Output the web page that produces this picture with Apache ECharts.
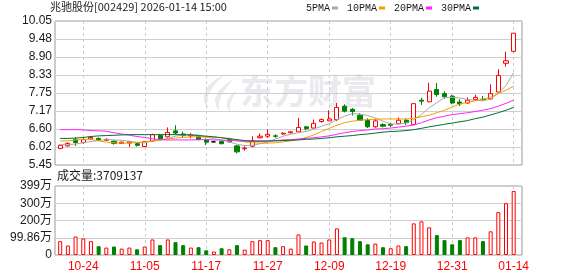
<!DOCTYPE html>
<html><head><meta charset="utf-8">
<script src="https://cdn.jsdelivr.net/npm/echarts@6/dist/echarts.min.js"></script>
<style>html,body{margin:0;padding:0;background:#fff}#c{width:578px;height:276px}</style>
</head><body><div id="c"></div>
<script>
const dates = ['10-21','10-22','10-23','10-24','10-27','10-28','10-29','10-30','10-31',
  '11-03','11-04','11-05','11-06','11-07','11-10','11-11','11-12','11-13','11-14','11-17','11-18','11-19','11-20','11-21','11-24','11-25','11-26','11-27','11-28',
  '12-01','12-02','12-03','12-04','12-05','12-08','12-09','12-10','12-11','12-12','12-15','12-16','12-17','12-18','12-19','12-22','12-23','12-24','12-25','12-26','12-29','12-30','12-31',
  '01-05','01-06','01-07','01-08','01-09','01-12','01-13','01-14'];
const open  = [5.98,6.06,6.26,6.17,6.28,6.30,6.24,6.21,6.14,6.15, 6.13,6.04,6.22,6.39,6.35,6.54,6.44,6.38,6.35,6.26, 6.19,6.20,6.26,6.06,5.97,6.05,6.32,6.37,6.38,6.44, 6.48,6.51,6.67,6.63,6.84,6.86,6.90,7.33,7.23,7.04, 6.88,6.67,6.74,6.75,6.77,6.88,6.74,7.52,7.47,7.86, 7.73,7.65,7.46,7.43,7.54,7.55,7.56,7.78,8.70,9.08];
const close = [6.08,6.14,6.17,6.26,6.33,6.26,6.27,6.14,6.18,6.19, 6.08,6.20,6.42,6.29,6.49,6.47,6.39,6.42,6.26,6.18, 6.19,6.13,6.19,5.87,5.99,6.22,6.37,6.43,6.37,6.46, 6.51,6.65,6.61,6.78,6.90,6.92,7.29,7.17,7.16,6.88, 6.67,6.86,6.69,6.72,6.88,6.80,7.41,7.49,7.81,7.70, 7.63,7.43,7.40,7.52,7.61,7.54,7.73,8.31,8.78,9.66];
const low   = [5.95,6.04,6.06,6.13,6.25,6.22,6.22,6.10,6.12,6.03, 6.04,6.02,6.20,6.27,6.33,6.42,6.33,6.30,6.24,6.09, 6.17,6.11,6.17,5.82,5.91,6.02,6.30,6.31,6.32,6.42, 6.46,6.50,6.56,6.61,6.80,6.85,6.85,7.13,7.03,6.86, 6.63,6.64,6.65,6.66,6.75,6.73,6.72,7.37,7.45,7.63, 7.57,7.39,7.33,7.41,7.50,7.50,7.54,7.76,8.59,9.05];
const high  = [6.10,6.17,6.34,6.32,6.36,6.33,6.30,6.24,6.20,6.21, 6.16,6.22,6.45,6.44,6.65,6.72,6.52,6.47,6.37,6.30, 6.22,6.22,6.30,6.08,6.05,6.37,6.46,6.59,6.43,6.50, 6.53,6.95,6.70,6.90,6.93,7.20,7.43,7.39,7.27,7.10, 6.94,6.93,6.78,6.80,6.97,6.93,7.41,7.60,8.08,8.07, 7.80,7.69,7.55,7.61,7.70,7.66,8.03,8.51,9.07,9.66];
const volume = [800000,550000,1070000,960000,800000,510000,430000,490000,370000,430000,
  330000,490000,900000,570000,900000,740000,570000,430000,450000,270000,
  200000,390000,330000,570000,310000,800000,860000,860000,450000,510000,
  370000,1190000,550000,780000,720000,900000,1540000,1030000,970000,800000,
  620000,660000,450000,390000,550000,510000,1830000,1950000,1600000,1150000,
  860000,620000,860000,1020000,1020000,800000,1370000,2480000,3000000,3709137];
const ma5  = [6.10,6.10,6.12,6.16,6.20,6.23,6.26,6.25,6.24,6.21, 6.17,6.16,6.21,6.24,6.30,6.37,6.41,6.41,6.41,6.34, 6.29,6.24,6.19,6.11,6.07,6.08,6.13,6.18,6.28,6.37, 6.43,6.48,6.52,6.60,6.69,6.77,6.90,7.01,7.09,7.08, 7.03,6.95,6.85,6.76,6.76,6.79,6.90,7.06,7.28,7.44, 7.61,7.61,7.59,7.54,7.52,7.50,7.56,7.74,7.99,8.40];
const ma10 = [6.22,6.22,6.25,6.27,6.27,6.22,6.18,6.16,6.15,6.15, 6.17,6.19,6.22,6.25,6.28,6.31,6.33,6.35,6.35,6.34, 6.34,6.32,6.30,6.24,6.19,6.16,6.15,6.15,6.16,6.19, 6.22,6.27,6.33,6.41,6.52,6.62,6.72,6.80,6.85,6.88, 6.90,6.91,6.92,6.92,6.92,6.92,6.94,6.99,7.04,7.12, 7.20,7.30,7.40,7.45,7.50,7.55,7.62,7.73,7.84,7.97];
const ma20 = [6.58,6.58,6.58,6.57,6.55,6.54,6.53,6.48,6.44,6.40, 6.36,6.33,6.29,6.26,6.25,6.25,6.25,6.25,6.26,6.26, 6.25,6.25,6.24,6.22,6.21,6.20,6.20,6.21,6.23,6.25, 6.26,6.28,6.30,6.32,6.35,6.38,6.43,6.48,6.52,6.55, 6.57,6.60,6.61,6.63,6.66,6.69,6.73,6.80,6.89,6.96, 7.01,7.06,7.09,7.12,7.16,7.20,7.25,7.33,7.42,7.52];
const ma30 = [6.30,6.30,6.31,6.33,6.36,6.38,6.39,6.40,6.41,6.42, 6.42,6.42,6.42,6.42,6.42,6.42,6.42,6.41,6.39,6.37, 6.35,6.32,6.29,6.26,6.23,6.22,6.22,6.22,6.22,6.23, 6.24,6.25,6.27,6.28,6.30,6.32,6.35,6.37,6.39,6.42, 6.44,6.47,6.50,6.52,6.53,6.55,6.58,6.62,6.67,6.71, 6.75,6.79,6.83,6.87,6.93,6.98,7.05,7.12,7.20,7.29];
const priceTicks = ['5.45','6.02','6.60','7.17','7.75','8.33','8.90','9.48','10.05'];
const volTicks = ['0','99.86万','200万','300万','399万'];
const priceMin = 5.45, priceMax = 10.05, volMax = 3994400;
const stockTitle = '兆驰股份[002429] 2026-01-14 15:00';
const maNames = ['5PMA','10PMA','20PMA','30PMA'];
</script>
<script>
const RED = '#ff0000', GREEN = '#008000';
const labelEvery = (i) => (i - 3) % 8 === 0;
const chart = echarts.init(document.getElementById('c'), null, {renderer: 'canvas'});
const frameL = 55, frameW = 467, dataL = 60.2, dataW = 453.5;
const pTop = 21, pH = 144, vTop = 186, vH = 69;
const yLabel = {color: '#1a1a1a', fontSize: 12, fontFamily: 'Liberation Sans', margin: 3, interval: 0};
const candleData = dates.map((d, i) => [open[i], close[i], low[i], high[i]]);
const volData = volume.map((v, i) => {
  const up = i === 0 ? close[i] >= open[i] : close[i] >= close[i - 1];
  return {value: v, itemStyle: up ? {color: '#fff', borderColor: RED, borderWidth: 1} : {color: GREEN, borderColor: GREEN, borderWidth: 1}};
});
const maColors = ['#a8a8a8', '#f2a100', '#ff22ff', '#006e35'];
const maData = [ma5, ma10, ma20, ma30];
const catX = (gi, showLabel) => ({
  gridIndex: gi, type: 'category', data: dates, boundaryGap: false,
  axisLine: {show: false}, axisTick: {show: false},
  axisLabel: showLabel ? {interval: labelEvery, color: RED, fontSize: 12, fontFamily: 'Liberation Sans', margin: 6} : {show: false},
  splitLine: {show: true, interval: labelEvery, lineStyle: {color: '#cccccc', type: [3, 3], width: 1}}
});
const WM = '#e9e9ee';
const option = {
  animation: false,
  backgroundColor: '#fff',
  title: [
    {text: stockTitle, left: 50, top: 1, padding: 0, textStyle: {fontSize: 11, fontWeight: 'normal', fontFamily: 'Noto Sans CJK SC', color: '#1a1a1a'}},
    {text: '成交量:' + volume[volume.length - 1], left: 57, top: 169, padding: 0, textStyle: {fontSize: 12, fontWeight: 'normal', fontFamily: 'Noto Sans CJK SC', color: '#1a1a1a'}}
  ],
  legend: {
    data: maNames, left: 306, top: 3, padding: 0, align: 'right', icon: 'rect',
    itemWidth: 6, itemHeight: 3, itemGap: 9, selectedMode: false,
    textStyle: {fontSize: 10, fontFamily: 'Liberation Mono', color: '#1a1a1a', padding: [0, -3, 0, 0]}
  },
  graphic: [
    {type: 'text', left: 240, top: 74, z: -10, silent: true,
     style: {text: '东方财富', fontSize: 34, fontWeight: 'bold', fontFamily: 'Noto Sans CJK SC', fill: WM}},
    {type: 'polygon', z: -10, silent: true,
     shape: {points: [[226,74],[216,79],[208,86],[204,94],[204,102],[208,110],[207,101],[209,93],[214,85],[220,79]]},
     style: {fill: WM}},
    {type: 'polygon', z: -10, silent: true,
     shape: {points: [[234,78],[226,84],[219,91],[215,99],[216,106],[219,111],[219,103],[221,96],[226,88]]},
     style: {fill: WM}},
    {type: 'polygon', z: -10, silent: true,
     shape: {points: [[237,90],[231,95],[227,101],[227,107],[230,111],[230,105],[232,99]]},
     style: {fill: WM}}
  ],
  grid: [
    {left: frameL, top: pTop, width: frameW, height: pH, show: true, borderColor: '#999', borderWidth: 1, backgroundColor: 'transparent'},
    {left: dataL, top: pTop, width: dataW, height: pH},
    {left: frameL, top: vTop, width: frameW, height: vH, show: true, borderColor: '#999', borderWidth: 1, backgroundColor: 'transparent'},
    {left: dataL, top: vTop, width: dataW, height: vH}
  ],
  xAxis: [
    {gridIndex: 0, type: 'value', min: 0, max: 1, show: false},
    catX(1, false),
    {gridIndex: 2, type: 'value', min: 0, max: 1, show: false},
    catX(3, true)
  ],
  yAxis: [
    {gridIndex: 0, type: 'category', data: priceTicks, boundaryGap: false, axisLine: {show: false}, axisTick: {show: false},
     axisLabel: yLabel, splitLine: {show: true, interval: 0, lineStyle: {color: '#cfcfcf', width: 1}}},
    {gridIndex: 1, type: 'value', min: priceMin, max: priceMax, show: false, splitLine: {show: false}},
    {gridIndex: 2, type: 'category', data: volTicks, boundaryGap: false, axisLine: {show: false}, axisTick: {show: false},
     axisLabel: Object.assign({}, yLabel, {fontFamily: 'Liberation Sans, Noto Sans CJK SC'}), splitLine: {show: true, interval: 0, lineStyle: {color: '#cfcfcf', width: 1}}},
    {gridIndex: 3, type: 'value', min: 0, max: volMax, show: false, splitLine: {show: false}}
  ],
  series: [
    {type: 'candlestick', xAxisIndex: 1, yAxisIndex: 1, data: candleData, barWidth: 4.6, clip: false, silent: true,
     itemStyle: {color: '#fff', color0: GREEN, borderColor: RED, borderColor0: GREEN, borderColorDoji: '#000', borderWidth: 1}},
    ...maNames.map((n, k) => ({
      name: n, type: 'line', xAxisIndex: 1, yAxisIndex: 1, data: maData[k], showSymbol: false, silent: true,
      itemStyle: {color: maColors[k]}, lineStyle: {color: maColors[k], width: 1}
    })),
    {type: 'bar', xAxisIndex: 3, yAxisIndex: 3, data: volData, barWidth: 4, clip: false, silent: true}
  ]
};
chart.setOption(option);
</script>
</body></html>
